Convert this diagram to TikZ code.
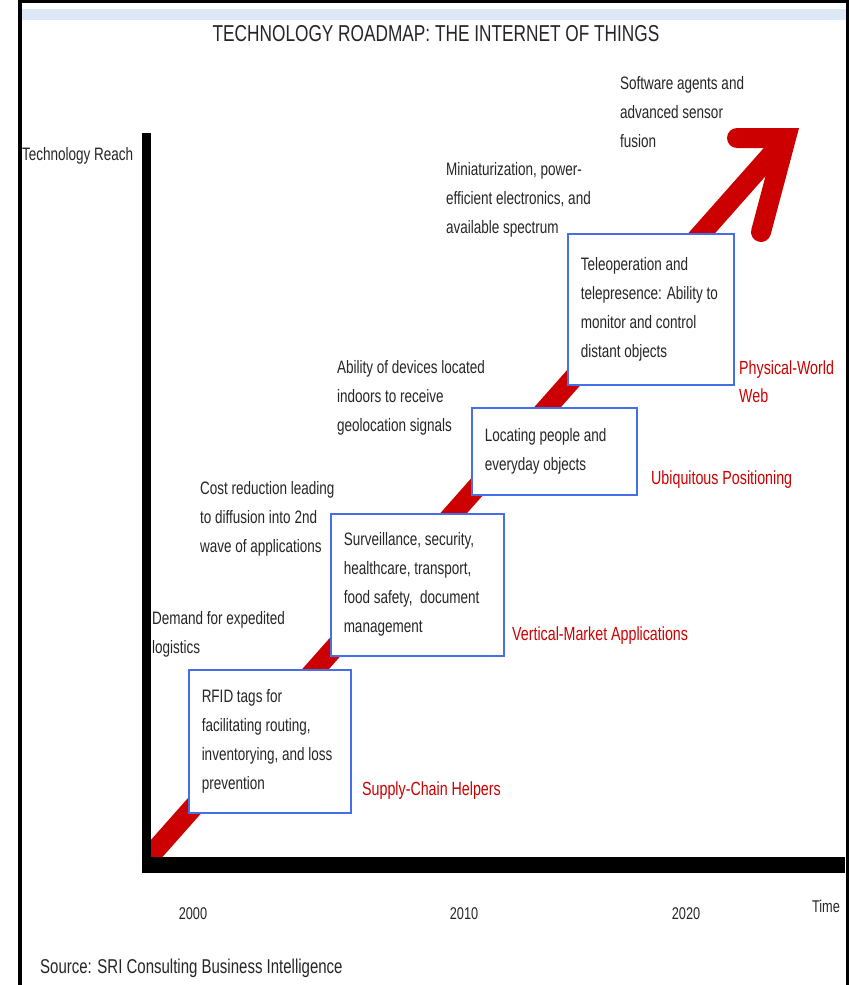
\documentclass[tikz,border=0pt]{standalone}
\usepackage{fontspec}
\setmainfont{Liberation Sans}[FakeStretch=0.75]
\usepackage{xcolor}
\usepackage{tikz}
\usetikzlibrary{positioning}

\definecolor{roadred}{RGB}{204,0,0}
\definecolor{boxblue}{RGB}{70,110,230}
\definecolor{bandblue}{RGB}{220,232,246}

\begin{document}
\begin{tikzpicture}[
    x=1pt, y=-1pt,
    lbl/.style={anchor=north west, inner sep=0pt, align=left, text=black!85, font=\fontsize{18}{29}\selectfont},
    redlbl/.style={lbl, text=roadred, font=\fontsize{19}{28}\selectfont},
    box/.style={rectangle, draw=boxblue, fill=white, line width=1.5pt, anchor=north west, inner xsep=13pt, inner ysep=0pt, align=flush left, text=black!85, font=\fontsize{18}{29}\selectfont},
    year/.style={inner sep=0pt, text=black!85, font=\fontsize{17}{20}\selectfont},
    axis/.style={black, line cap=butt},
    road/.style={roadred, line width=20pt}
]
\useasboundingbox (0,0) rectangle (850,985);
\fill[white] (0,0) rectangle (850,985);

% Frame
\fill[bandblue] (22,9) rectangle (846,20);
\draw[black, line width=3.5pt] (20,985) -- (20,1.5) -- (847.5,1.5) -- (847.5,985);

% Title
\node[inner sep=0pt, text=black!85, font=\fontsize{23}{26}\selectfont] (title) at (436,34) {TECHNOLOGY ROADMAP: THE INTERNET OF THINGS};

% Red roadmap arrow
\coordinate (start) at (150,856);
\coordinate (tip) at (786,138);
\coordinate (barbup) at (737,138);
\coordinate (barbdown) at (761,232);
\draw[road] (start) -- (tip);
\draw[road, line cap=round, line join=miter] (barbup) -- (tip) -- (barbdown);

% Axes
\coordinate (origin) at (146.5,865);
\coordinate (ytop) at (146.5,133);
\coordinate (xend) at (845,865);
\draw[axis, line width=9pt] (ytop) -- ([yshift=8pt]origin);
\draw[axis, line width=16pt] ([xshift=-4.5pt]origin) -- (xend);

\node[lbl] (reach) at (22,147) {Technology Reach};
\node[year] (y2000) at (193,914) {2000};
\node[year] (y2010) at (464,914) {2010};
\node[year] (y2020) at (686,914) {2020};
\node[year] (time) at (826,906) {Time};

% Boxes
\node[box, text width=136pt, minimum height=143pt] (rfid) at (188,669) {RFID tags for\\facilitating routing,\\inventorying, and loss\\prevention};
\node[box, text width=147pt, minimum height=142pt] (vertical) at (330,513) {Surveillance, security,\\healthcare, transport,\\food safety,\ \ document\\management};
\node[box, text width=139pt, minimum height=87pt] (locating) at (471,407) {Locating people and\\everyday objects};
\node[box, text width=140pt, minimum height=151pt] (teleop) at (567,233) {Teleoperation and\\telepresence: Ability to\\monitor and control\\distant objects};

% Stage names
\node[redlbl] (supply) at (362,782) {Supply-Chain Helpers};
\node[redlbl] (market) at (512,627) {Vertical-Market Applications};
\node[redlbl] (ubiq) at (651,471) {Ubiquitous Positioning};
\node[redlbl] (physical) at (739,361) {Physical-World\\Web};

% Drivers
\node[lbl] (demand) at (152,611) {Demand for expedited\\logistics};
\node[lbl] (cost) at (200,481) {Cost reduction leading\\to diffusion into 2nd\\wave of applications};
\node[lbl] (indoor) at (337,360) {Ability of devices located\\indoors to receive\\geolocation signals};
\node[lbl] (mini) at (446,162) {Miniaturization, power-\\efficient electronics, and\\available spectrum};
\node[lbl] (agents) at (620,76) {Software agents and\\advanced sensor\\fusion};

% Source
\node[anchor=west, inner sep=0pt, text=black!85, font=\fontsize{20}{24}\selectfont] (source) at (40,968) {Source: SRI Consulting Business Intelligence};

\end{tikzpicture}
\end{document}
